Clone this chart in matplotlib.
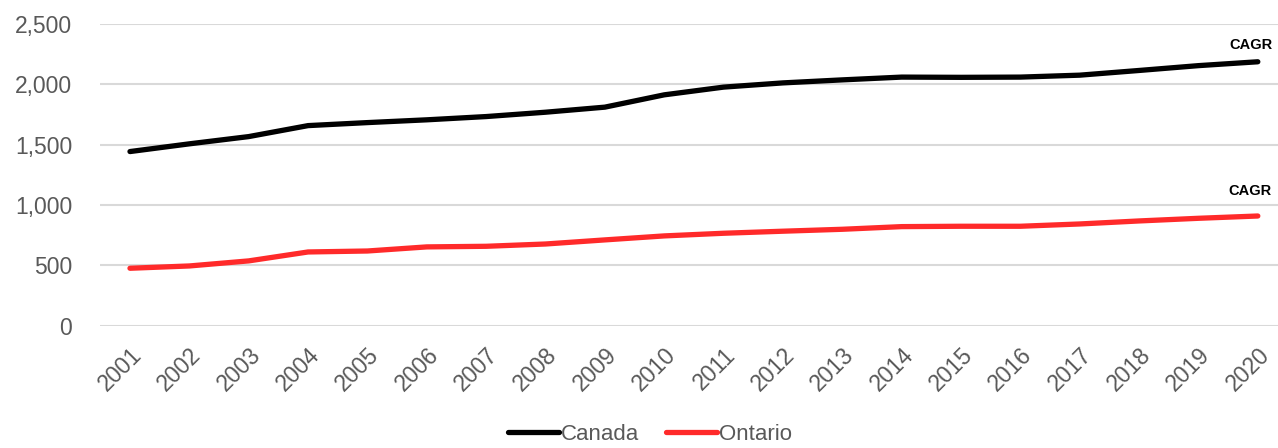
import matplotlib.pyplot as plt
from matplotlib.ticker import FuncFormatter

plt.rcParams['font.family'] = ['Liberation Sans', 'DejaVu Sans']

# Data
years = [str(y) for y in range(2001, 2021)]
canada = [1443, 1507, 1567, 1658, 1683, 1706, 1733, 1769, 1811, 1913,
          1977, 2012, 2037, 2060, 2058, 2060, 2076, 2115, 2155, 2187]
ontario = [476, 495, 537, 611, 619, 653, 658, 677, 711, 744,
           766, 783, 799, 821, 824, 824, 843, 868, 890, 909]
yticks = [0, 500, 1000, 1500, 2000, 2500]

grey = '#595959'

fig = plt.figure(figsize=(12.78, 4.48), dpi=100)
ax = fig.add_axes([100 / 1278, 1 - 325.7 / 448, 1 - 100 / 1278, (325.7 - 24) / 448])

x = list(range(len(years)))
ax.plot(x, canada, color='black', lw=3.8, solid_capstyle='round', label='Canada', zorder=3)
ax.plot(x, ontario, color='#FF2A2A', lw=3.8, solid_capstyle='round', label='Ontario', zorder=3)

# CAGR labels above the last points
ax.annotate('CAGR', (x[-1], canada[-1]), xytext=(-5, 12), textcoords='offset points',
            ha='center', va='center', fontsize=10.5, fontweight='bold', color='black')
ax.annotate('CAGR', (x[-1], ontario[-1]), xytext=(-6, 18), textcoords='offset points',
            ha='center', va='center', fontsize=10.5, fontweight='bold', color='black')

ax.set_ylim(0, 2500)
ax.set_yticks(yticks)
ax.yaxis.set_major_formatter(FuncFormatter(lambda v, p: f'{int(v):,}'))
ax.set_xlim(-0.505, 19.34)
ax.set_xticks(x)
ax.set_xticklabels(years, rotation=45, ha='right', rotation_mode='anchor')

ax.grid(axis='y', color='#D9D9D9', lw=1.5)
ax.set_axisbelow(True)
for s in ax.spines.values():
    s.set_visible(False)
ax.tick_params(length=0, labelsize=16.5, colors=grey)
ax.tick_params(axis='y', pad=20)
ax.tick_params(axis='x', pad=13)

leg = fig.legend(loc='center', bbox_to_anchor=(650 / 1278, 1 - 434 / 448), ncol=2,
                 frameon=False, fontsize=16, handlelength=2.3, columnspacing=1.2,
                 handletextpad=0.1, borderpad=0.2)
for t in leg.get_texts():
    t.set_color(grey)

fig.savefig('out.png', dpi=100)
